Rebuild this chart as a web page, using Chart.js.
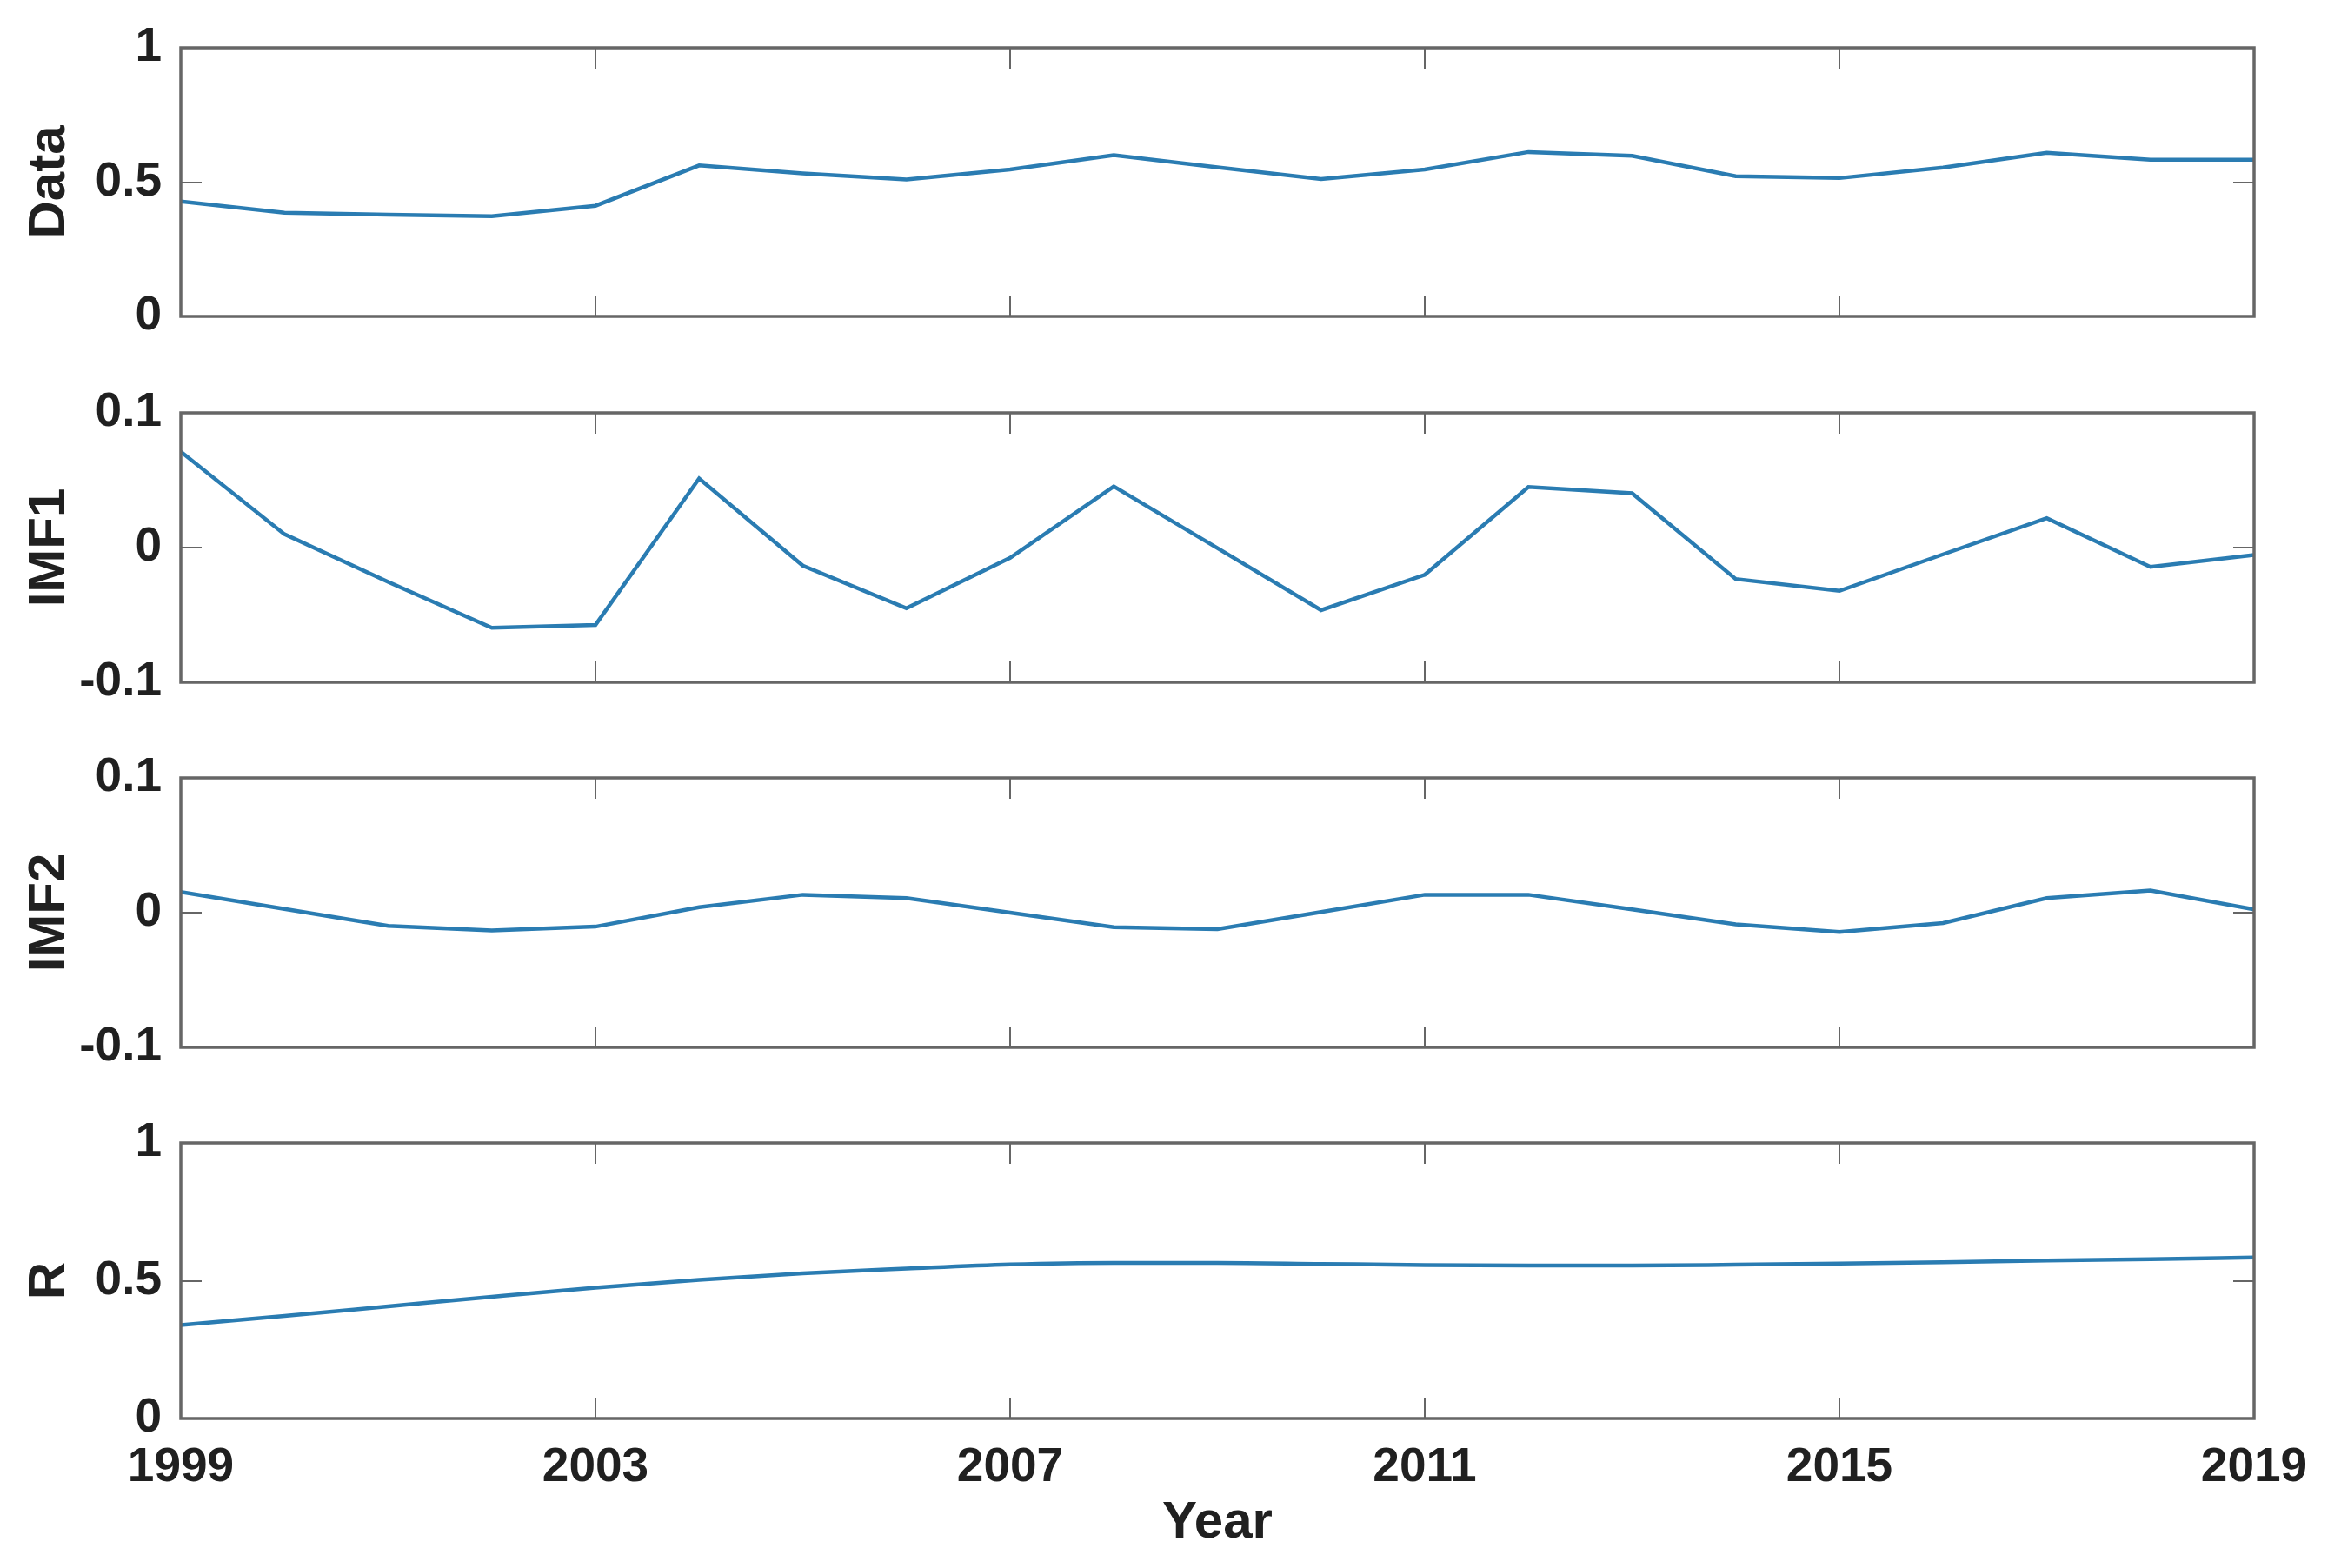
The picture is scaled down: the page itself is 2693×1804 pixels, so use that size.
<!DOCTYPE html>
<html>
<head>
<meta charset="utf-8">
<script src="https://cdn.jsdelivr.net/npm/chart.js@4.4.1/dist/chart.umd.min.js"></script>
<style>
  html, body { margin: 0; padding: 0; background: #fff; }
  #wrap { position: relative; width: 2693px; height: 1804px; }
  canvas { position: absolute; left: 0; }
</style>
</head>
<body>
<div id="wrap">
  <canvas id="p1" width="2693" height="420" style="top:0px"></canvas>
  <canvas id="p2" width="2693" height="420" style="top:420px"></canvas>
  <canvas id="p3" width="2693" height="420" style="top:840px"></canvas>
  <canvas id="p4" width="2693" height="544" style="top:1260px"></canvas>
</div>
<script>
// data
const years = [1999, 2000, 2001, 2002, 2003, 2004, 2005, 2006, 2007, 2008, 2009,
               2010, 2011, 2012, 2013, 2014, 2015, 2016, 2017, 2018, 2019];
const dataSeries = [0.428, 0.386, 0.379, 0.373, 0.412, 0.562, 0.532, 0.510, 0.547, 0.600, 0.555,
                    0.511, 0.547, 0.612, 0.598, 0.522, 0.515, 0.554, 0.609, 0.583, 0.583];
const imf1 = [0.0712, 0.0099, -0.0255, -0.0595, -0.0574, 0.0513, -0.0134, -0.045, -0.0076, 0.0454, -0.0004,
              -0.0464, -0.0202, 0.045, 0.0403, -0.0233, -0.0321, -0.005, 0.0218, -0.0143, -0.0055];
const imf2 = [0.0154, 0.0028, -0.0098, -0.0133, -0.0104, 0.004, 0.0133, 0.0108, 0.0, -0.0108, -0.0123,
              0.0005, 0.0133, 0.0133, 0.0024, -0.0087, -0.0144, -0.0077, 0.0108, 0.0165, 0.0024];
const residue = [0.339, 0.372, 0.407, 0.442, 0.475, 0.503, 0.527, 0.544, 0.559, 0.565, 0.565,
                 0.561, 0.557, 0.555, 0.555, 0.558, 0.562, 0.567, 0.573, 0.578, 0.584];

const xTicks = [1999, 2003, 2007, 2011, 2015, 2019];
const unitTicks = [0, 0.5, 1];
const imfTicks = [-0.1, 0, 0.1];

const LINE = '#2a7cb2';
const FRAME = '#666666';
const TEXT = '#202020';
const FONT = 'Liberation Sans, Arial, sans-serif';
const TICK = 24;

// matlab style box with inward ticks on every side
const boxPlugin = {
  id: 'box',
  afterDraw(chart) {
    const {ctx, chartArea: a, scales} = chart;
    const x = scales.x, y = scales.y;
    ctx.save();
    ctx.strokeStyle = FRAME;
    ctx.lineWidth = 2;
    ctx.beginPath();
    xTicks.forEach(v => {
      const px = Math.round(x.getPixelForValue(v));
      ctx.moveTo(px, a.bottom); ctx.lineTo(px, a.bottom - TICK);
      ctx.moveTo(px, a.top); ctx.lineTo(px, a.top + TICK);
    });
    y.ticks.forEach(t => {
      const py = Math.round(y.getPixelForValue(t.value));
      ctx.moveTo(a.left, py); ctx.lineTo(a.left + TICK, py);
      ctx.moveTo(a.right, py); ctx.lineTo(a.right - TICK, py);
    });
    ctx.stroke();
    ctx.lineWidth = 3.5;
    ctx.strokeRect(a.left, a.top, a.right - a.left, a.bottom - a.top);
    ctx.restore();
  }
};

function makePanel(id, values, yMin, yMax, yTicks, yTitle, opts) {
  const bottomAxis = !!opts.bottomAxis;
  return new Chart(document.getElementById(id), {
    type: 'line',
    data: {
      datasets: [{
        data: years.map((yr, i) => ({x: yr, y: values[i]})),
        borderColor: LINE,
        borderWidth: 4.5,
        pointRadius: 0,
        tension: 0,
        cubicInterpolationMode: opts.smooth ? 'monotone' : 'default',
        fill: false
      }]
    },
    options: {
      responsive: false,
      animation: false,
      devicePixelRatio: 1,
      layout: { padding: { top: opts.top, bottom: opts.bottom, left: 0, right: 100 } },
      plugins: { legend: { display: false }, tooltip: { enabled: false } },
      scales: {
        x: {
          type: 'linear',
          min: 1999,
          max: 2019,
          display: bottomAxis,
          afterBuildTicks: s => { s.ticks = xTicks.map(v => ({value: v})); },
          afterFit: s => { if (bottomAxis) s.height = opts.xHeight; },
          grid: { display: false, drawTicks: false },
          border: { display: false },
          ticks: {
            autoSkip: false, maxRotation: 0, padding: 24,
            color: TEXT, font: { family: FONT, size: 55, weight: 'bold' },
            callback: v => String(v)
          },
          title: {
            display: bottomAxis, text: 'Year', color: TEXT,
            font: { family: FONT, size: 60, weight: 'bold', lineHeight: 1 },
            padding: { top: 0, bottom: 22 }
          }
        },
        y: {
          min: yMin,
          max: yMax,
          afterBuildTicks: s => { s.ticks = yTicks.map(v => ({value: v})); },
          afterFit: s => { s.width = 208; },
          grid: { display: false, drawTicks: false },
          border: { display: false },
          ticks: {
            padding: 22, color: TEXT,
            font: { family: FONT, size: 55, weight: 'bold' },
            callback: v => String(v)
          },
          title: {
            display: true, text: yTitle, color: TEXT,
            font: { family: FONT, size: 60, weight: 'bold', lineHeight: 1 },
            padding: { top: 27, bottom: 0 }
          }
        }
      }
    },
    plugins: [boxPlugin]
  });
}

makePanel('p1', dataSeries, 0, 1, unitTicks, 'Data', { top: 48, bottom: 56 });
makePanel('p2', imf1, -0.1, 0.1, imfTicks, 'IMF1', { top: 49, bottom: 53 });
makePanel('p3', imf2, -0.1, 0.1, imfTicks, 'IMF2', { top: 51, bottom: 53 });
makePanel('p4', residue, 0, 1, unitTicks, 'R', { top: 54, bottom: 0, bottomAxis: true, xHeight: 172, smooth: true });
</script>
</body>
</html>
